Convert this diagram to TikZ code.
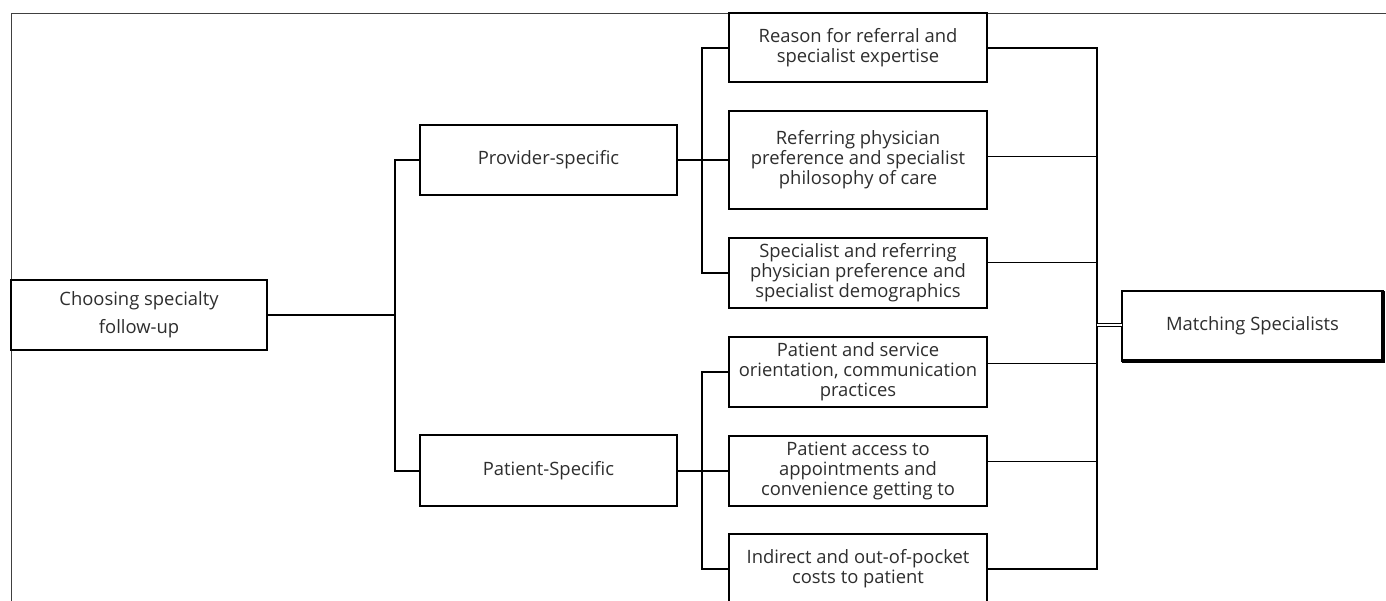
\documentclass[tikz,border=0pt]{standalone}
\usepackage{fontspec}
\setmainfont{Open Sans}
\begin{document}
\begin{tikzpicture}[x=1pt,y=-1pt,
  box/.style={draw=black,line width=2pt,fill=white,inner sep=0pt,outer sep=0pt,
    align=center,font=\fontsize{18.4}{20}\selectfont,text=black!82},
  thick conn/.style={line width=2pt},
  thin conn/.style={line width=0.9pt}]
\useasboundingbox (0,0) rectangle (1386,600);
% outer frame
\draw[line width=1pt,black!75] (11,620) -- (11,13) -- (1400,13);
% nodes
\node[box,minimum width=256,minimum height=70,font=\fontsize{18.4}{28}\selectfont] (choose) at (139,315) {Choosing specialty\\follow-up};
\node[box,minimum width=257,minimum height=70] (prov) at (548.5,160) {Provider-specific};
\node[box,minimum width=257,minimum height=71] (pat) at (548.5,470.5) {Patient-Specific};
\node[box,minimum width=258,minimum height=69] (r1) at (858,47.5) {Reason for referral and\\specialist expertise};
\node[box,minimum width=258,minimum height=98] (r2) at (858,160) {Referring physician\\preference and specialist\\philosophy of care};
\node[box,minimum width=258,minimum height=70] (r3) at (858,273) {Specialist and referring\\physician preference and\\specialist demographics};
\node[box,minimum width=258,minimum height=70] (r4) at (858,372) {Patient and service\\orientation, communication\\practices};
\node[box,minimum width=258,minimum height=70] (r5) at (858,471) {Patient access to\\appointments and\\convenience getting to};
\node[box,minimum width=258,minimum height=70] (r6) at (858,569) {Indirect and out-of-pocket\\costs to patient};
\node[box,minimum width=261,minimum height=70] (match) at (1252.5,326) {Matching Specialists};
% heavier right and bottom edges of Matching
\draw[line width=3.5pt] (match.north east) -- (match.south east) -- (match.south west);
% junction coordinates
\coordinate (j0) at (395,315);
\coordinate (j1) at (702,160);
\coordinate (j2) at (702,470.5);
\coordinate (jr) at (1097,325);
% left tree
\draw[thick conn] (choose.east) -- (j0);
\draw[thick conn] (prov.west) -- (prov.west -| j0) -- (pat.west -| j0) -- (pat.west);
\draw[thick conn] (prov.east) -- (j1);
\draw[thick conn] (r1.west) -- (r1.west -| j1) -- (r3.west -| j1) -- (r3.west);
\draw[thick conn] (r2.west) -- (r2.west -| j1);
\draw[thick conn] (pat.east) -- (j2);
\draw[thick conn] (r4.west) -- (r4.west -| j2) -- (r6.west -| j2) -- (r6.west);
\draw[thick conn] (r5.west) -- (r5.west -| j2);
% right side
\draw[thick conn] (r1.east) -- (r1.east -| jr) -- (r6.east -| jr) -- (r6.east);
\draw[thin conn] ([yshift=4pt]r2.east) -- ([yshift=4pt]r2.east -| jr);
\draw[thin conn] ([yshift=11pt]r3.east) -- ([yshift=11pt]r3.east -| jr);
\draw[thin conn] ([yshift=9pt]r4.east) -- ([yshift=9pt]r4.east -| jr);
\draw[thin conn] ([yshift=10pt]r5.east) -- ([yshift=10pt]r5.east -| jr);
\draw[line width=0.9pt,double=white,double distance=1.8pt] (jr) -- (jr -| match.west);
\end{tikzpicture}
\end{document}
